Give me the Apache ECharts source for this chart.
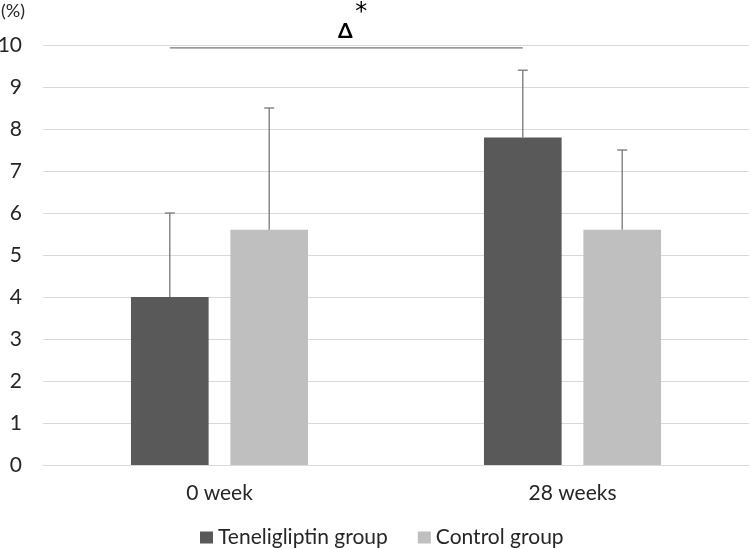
<!DOCTYPE html>
<html><head><meta charset="utf-8">
<script src="https://cdn.jsdelivr.net/npm/echarts@6/dist/echarts.min.js"></script>
<style>html,body{margin:0;padding:0;background:#fff}#c{width:750px;height:549px}</style>
</head><body><div id="c"></div>
<script>
const categories = ['0 week', '28 weeks'];
const seriesNames = ['Teneligliptin group', 'Control group'];
const teneligliptin = [4.0, 7.8];
const control = [5.6, 5.6];
const teneligliptinErr = [2.0, 1.6];
const controlErr = [2.9, 1.9];
const yTicks = [0, 10, 1];
const sigLevel = 9.93;
const sigLabels = ['Δ', '*'];

const FONT = 'Lato, "Liberation Sans", sans-serif';
const TXT = '#262626';
const BW = 0.22, GAP = 0.28;

function barCenter(api, cat, idx) {
  const band = api.size([1, 0])[0];
  const bw = band * BW, gap = bw * GAP;
  const total = 2 * bw + gap;
  const c = api.coord([cat, 0])[0];
  return c - total / 2 + bw / 2 + idx * (bw + gap);
}

function errRender(idx) {
  return function (params, api) {
    const cat = api.value(0), v = api.value(1), e = api.value(2);
    const x = barCenter(api, cat, idx);
    const y0 = api.coord([cat, v])[1];
    const y1 = api.coord([cat, v + e])[1];
    const st = { stroke: '#777', lineWidth: 1.3 };
    return { type: 'group', children: [
      { type: 'line', shape: { x1: x, y1: y0, x2: x, y2: y1 }, style: st },
      { type: 'line', shape: { x1: x - 5, y1: y1, x2: x + 5, y2: y1 }, style: st }
    ]};
  };
}

const chart = echarts.init(document.getElementById('c'));
chart.setOption({
  animation: false,
  grid: { left: 43, right: 1, top: 45, bottom: 84, outerBoundsMode: 'none', containLabel: false },
  legend: {
    bottom: -4, left: 195, itemWidth: 13, itemHeight: 12, itemGap: 30,
    icon: 'rect', data: seriesNames,
    textStyle: { fontFamily: FONT, fontSize: 21, color: TXT }
  },
  xAxis: {
    type: 'category', data: categories,
    axisLine: { show: true, lineStyle: { color: '#d9d9d9' } },
    axisTick: { show: false },
    axisLabel: { fontFamily: FONT, fontSize: 21, color: TXT, margin: 18 }
  },
  yAxis: {
    type: 'value', min: yTicks[0], max: yTicks[1], interval: yTicks[2],
    name: '(%)', nameLocation: 'end', nameGap: 25,
    nameTextStyle: { fontFamily: FONT, fontSize: 18, color: TXT, align: 'right', padding: [0, 18, 0, 0] },
    axisLine: { show: false }, axisTick: { show: false },
    splitLine: { lineStyle: { color: '#d9d9d9', width: 1 } },
    axisLabel: { fontFamily: FONT, fontSize: 21, color: TXT, margin: 21 }
  },
  series: [
    { name: seriesNames[0], type: 'bar', data: teneligliptin, barWidth: (BW * 100) + '%', barGap: (GAP * 100) + '%', itemStyle: { color: '#595959' } },
    { name: seriesNames[1], type: 'bar', data: control, barWidth: (BW * 100) + '%', barGap: (GAP * 100) + '%', itemStyle: { color: '#bfbfbf' } },
    { type: 'custom', renderItem: errRender(0), data: teneligliptin.map((v, i) => [i, v, teneligliptinErr[i]]), z: 5, silent: true },
    { type: 'custom', renderItem: errRender(1), data: control.map((v, i) => [i, v, controlErr[i]]), z: 5, silent: true },
    { type: 'custom', clip: false, silent: true, z: 6,
      data: [[0, sigLevel]],
      renderItem: function (params, api) {
        const xa = barCenter(api, 0, 0), xb = barCenter(api, 1, 0);
        const y = api.coord([0, sigLevel])[1];
        const xm = (xa + xb) / 2;
        return { type: 'group', children: [
          { type: 'line', shape: { x1: xa, y1: y, x2: xb, y2: y }, style: { stroke: '#777', lineWidth: 1.3 } },
          { type: 'text', style: { x: xm - 1, y: y - 17, text: sigLabels[0], font: 'bold 21px Lato, "DejaVu Sans", sans-serif', fill: '#000', textAlign: 'center', textVerticalAlign: 'middle' } },
          { type: 'text', style: { x: xm + 15, y: y - 35, text: sigLabels[1], font: '24px "DejaVu Sans", sans-serif', fill: '#000', textAlign: 'center', textVerticalAlign: 'middle' } }
        ]};
      }
    }
  ]
});
</script></body></html>
